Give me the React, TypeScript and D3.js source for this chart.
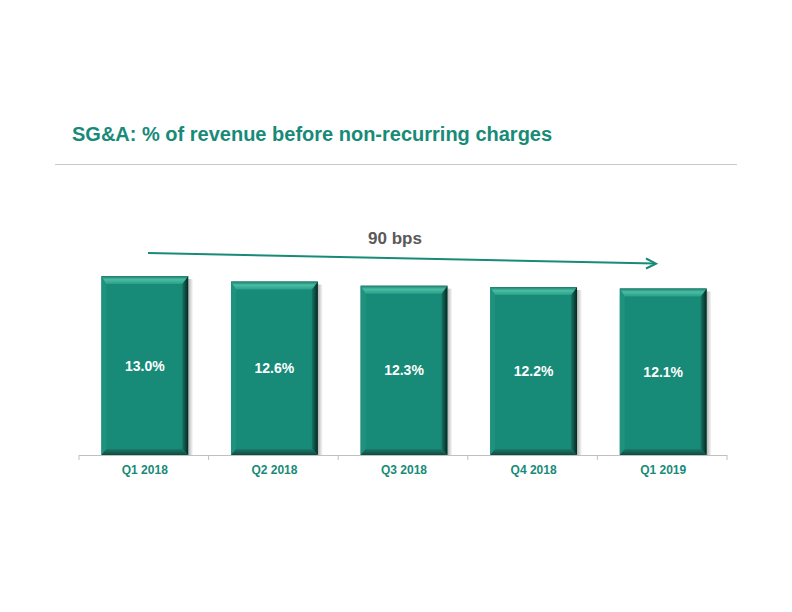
import React from "react";
import * as d3 from "d3";

const categories = ["Q1 2018", "Q2 2018", "Q3 2018", "Q4 2018", "Q1 2019"];
const values = [13.0, 12.6, 12.3, 12.2, 12.1];
const valueLabels = ["13.0%", "12.6%", "12.3%", "12.2%", "12.1%"];
const title = "SG&A: % of revenue before non-recurring charges";
const arrowLabel = "90 bps";

const TEAL = "#188a78";

export default function App() {
  const W = 792, H = 612;
  const x0 = 79, x1 = 727, baseY = 455;
  const x = d3.scaleBand<string>().domain(categories).range([x0 + 1, x1 + 1]).paddingInner(0.33).paddingOuter(0.165);
  const y = d3.scaleLinear().domain([0, 13]).range([baseY, 276]);
  const band = (x1 - x0) / categories.length;
  const tb = 8, lb = 5, rb = 6, bb = 6;
  const font = "Liberation Sans, Arial, sans-serif";

  return (
    <div style={{ position: "absolute", left: 0, top: 0 }}>
      <svg width={W} height={H} style={{ display: "block" }}>
        <defs>
          <linearGradient id="shadow" x1="0" x2="1" y1="0" y2="0">
            <stop offset="0" stopColor="#000" stopOpacity="0.3" />
            <stop offset="1" stopColor="#000" stopOpacity="0" />
          </linearGradient>
          <linearGradient id="topb" x1="0" x2="0" y1="0" y2="1">
            <stop offset="0" stopColor="#1d7a69" />
            <stop offset="0.45" stopColor="#4bbda4" />
            <stop offset="1" stopColor="#27a087" />
          </linearGradient>
          <linearGradient id="rightb" x1="0" x2="1" y1="0" y2="0">
            <stop offset="0" stopColor="#167565" />
            <stop offset="1" stopColor="#06261f" />
          </linearGradient>
          <linearGradient id="botb" x1="0" x2="0" y1="0" y2="1">
            <stop offset="0" stopColor="#1a7a69" />
            <stop offset="1" stopColor="#0f4a3f" />
          </linearGradient>
        </defs>
        <rect width={W} height={H} fill="#fff" />
        <text x={72} y={141} fontFamily={font} fontWeight="bold" fontSize={20} fill={TEAL}>{title}</text>
        <line x1={55} x2={737} y1={164.5} y2={164.5} stroke="#c8c8c8" strokeWidth={1} />

        {categories.map((c, i) => {
          const bx = x(c)!;
          const bw = x.bandwidth();
          const ty = y(values[i]);
          const by = baseY;
          return (
            <g key={c}>
              <rect x={bx + bw} y={ty + 3} width={5} height={by - ty - 3} fill="url(#shadow)" />
              <rect x={bx} y={ty} width={bw} height={by - ty} fill={TEAL} />
              <polygon points={`${bx},${ty} ${bx + lb},${ty + tb} ${bx + lb},${by - bb} ${bx},${by}`} fill="#1f927d" />
              <polygon points={`${bx + bw},${ty} ${bx + bw},${by} ${bx + bw - rb},${by - bb} ${bx + bw - rb},${ty + tb}`} fill="url(#rightb)" />
              <polygon points={`${bx},${by} ${bx + lb},${by - bb} ${bx + bw - rb},${by - bb} ${bx + bw},${by}`} fill="url(#botb)" />
              <polygon points={`${bx},${ty} ${bx + bw},${ty} ${bx + bw - rb},${ty + tb} ${bx + lb},${ty + tb}`} fill="url(#topb)" />
              <text x={bx + bw / 2} y={(ty + by) / 2 + 5} textAnchor="middle" fontFamily={font} fontWeight="bold" fontSize={14} fill="#fff">{valueLabels[i]}</text>
              <text x={bx + bw / 2} y={474} textAnchor="middle" fontFamily={font} fontWeight="bold" fontSize={12} fill={TEAL}>{c}</text>
            </g>
          );
        })}

        <line x1={x0} x2={x1} y1={baseY + 0.5} y2={baseY + 0.5} stroke="#c0c0c0" strokeWidth={1} />
        {d3.range(categories.length + 1).map((i) => (
          <line key={i} x1={x0 + i * band} x2={x0 + i * band} y1={baseY} y2={baseY + 5} stroke="#c0c0c0" strokeWidth={1} />
        ))}

        <line x1={148} y1={253} x2={655} y2={263.5} stroke={TEAL} strokeWidth={2} />
        <polyline points="646,258.5 656,263.7 646,268.5" fill="none" stroke={TEAL} strokeWidth={2} />
        <text x={395} y={244} textAnchor="middle" fontFamily={font} fontWeight="bold" fontSize={17} fill="#595959">{arrowLabel}</text>
      </svg>
    </div>
  );
}
